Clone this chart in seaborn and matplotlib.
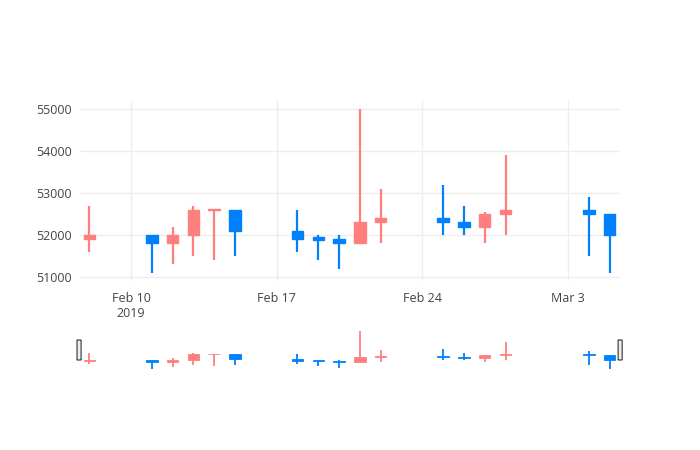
import numpy as np
import pandas as pd
import matplotlib
matplotlib.use('Agg')
import matplotlib.pyplot as plt
import matplotlib.dates as mdates
from matplotlib.patches import FancyBboxPatch
import seaborn as sns

# Daily OHLC values
dates = ['2019-02-08', '2019-02-11', '2019-02-12', '2019-02-13', '2019-02-14', '2019-02-15',
         '2019-02-18', '2019-02-19', '2019-02-20', '2019-02-21', '2019-02-22',
         '2019-02-25', '2019-02-26', '2019-02-27', '2019-02-28',
         '2019-03-04', '2019-03-05']
open_ = [51900, 52000, 51800, 52000, 52600, 52600,
         52100, 51950, 51900, 51800, 52300,
         52400, 52300, 52200, 52500,
         52600, 52500]
high = [52700, 52000, 52200, 52700, 52620, 52600,
        52600, 52000, 52000, 55000, 53100,
        53200, 52700, 52560, 53900,
        52900, 52500]
low = [51600, 51100, 51300, 51500, 51400, 51500,
       51600, 51400, 51200, 51800, 51800,
       52000, 52000, 51800, 52000,
       51500, 51100]
close = [52000, 51800, 52000, 52600, 52620, 52100,
         51900, 51880, 51800, 52300, 52400,
         52300, 52200, 52500, 52600,
         52500, 52000]

df = pd.DataFrame({'date': pd.to_datetime(dates), 'open': open_, 'high': high,
                   'low': low, 'close': close})

up_color = '#FF7F7F'
down_color = '#0080FF'

sns.set_theme(style='white')
plt.rcParams['font.family'] = ['Open Sans', 'DejaVu Sans']

fig = plt.figure(figsize=(7, 4.5), dpi=100)
ax = fig.add_axes([80 / 700, 1 - 281 / 450, 540 / 700, 180 / 450])
ax_s = fig.add_axes([80 / 700, 1 - 370 / 450, 540 / 700, 40 / 450])


def draw_candles(a, body_lw, wick_lw):
    x = mdates.date2num(df['date'])
    colors = [up_color if c >= o else down_color for o, c in zip(df['open'], df['close'])]
    a.vlines(x, df['low'], df['high'], colors=colors, linewidth=wick_lw, zorder=2)
    a.bar(x, df['close'] - df['open'], bottom=df['open'], width=0.55,
          color=colors, edgecolor=colors, linewidth=body_lw, zorder=3)


draw_candles(ax, 1.0, 1.6)
draw_candles(ax_s, 0.6, 1.3)

xmin = mdates.date2num(pd.Timestamp('2019-02-08')) - 0.45
xmax = mdates.date2num(pd.Timestamp('2019-03-05')) + 0.5
for a in (ax, ax_s):
    a.set_xlim(xmin, xmax)
    for s in a.spines.values():
        s.set_visible(False)

ax.set_ylim(50905, 55195)
ax.set_yticks([51000, 52000, 53000, 54000, 55000])
ax.set_yticklabels(['51000', '52000', '53000', '54000', '55000'])
ticks = pd.to_datetime(['2019-02-10', '2019-02-17', '2019-02-24', '2019-03-03'])
ax.set_xticks(mdates.date2num(ticks))
ax.set_xticklabels(['Feb 10\n2019', 'Feb 17', 'Feb 24', 'Mar 3'])
ax.grid(True, color='#eeeeee', linewidth=1)
ax.set_axisbelow(True)
ax.tick_params(axis='both', length=0, labelsize=9, colors='#444444', pad=6)
ax.tick_params(axis='x', pad=8)

ax_s.set_ylim(50950, 55150)
ax_s.set_xticks([])
ax_s.set_yticks([])

# range slider handles
for hx in (-0.0055, 0.9965):
    ax_s.add_patch(FancyBboxPatch((hx, 0.25), 0.0075, 0.5, boxstyle='round,pad=0,rounding_size=0.002',
                                  transform=ax_s.transAxes, facecolor='#eeeeee',
                                  edgecolor='#333333', linewidth=0.8, clip_on=False, zorder=5))

fig.savefig('out.png', dpi=100, facecolor='white')
